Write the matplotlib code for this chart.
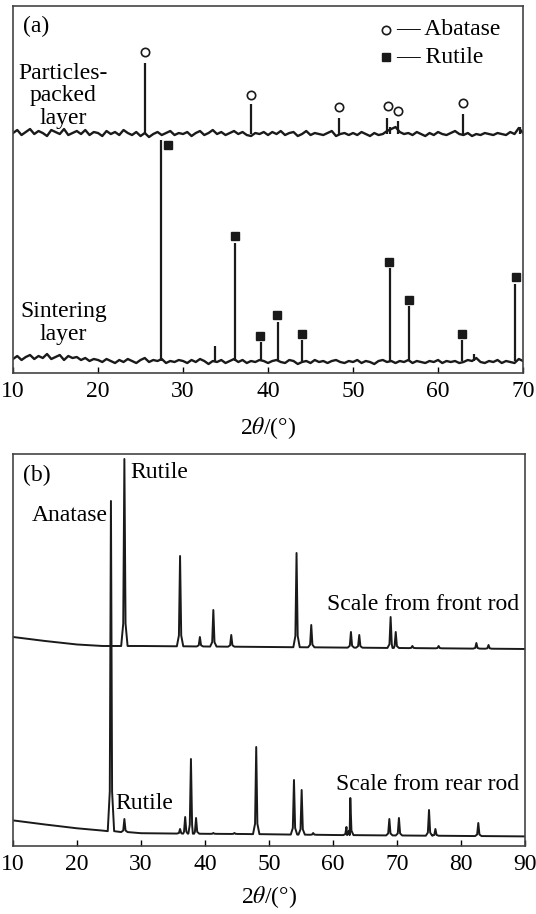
import numpy as np
import matplotlib
matplotlib.use("Agg")
from matplotlib import pyplot as plt

plt.rcParams['font.family'] = ['Liberation Serif', 'DejaVu Serif']
plt.rcParams['mathtext.fontset'] = 'stix'
plt.rcParams['font.size'] = 17

# ---- panel (a): noisy baselines every 0.5 deg, 10..70 ----
grid_a = np.arange(10, 70.01, 0.5)
packed_base = [240, 243, 238, 241, 244, 239, 242, 240, 237, 243, 241, 239, 244, 238, 240, 242, 239, 243, 238, 241,
               240, 237, 242, 239, 241, 238, 243, 240, 238, 241, 237, 240, 236, 239, 241, 238, 240, 242, 238, 240,
               239, 241, 237, 240, 242, 238, 240, 243, 239, 241, 238, 240, 242, 239, 241, 238, 237, 240, 239, 241,
               238, 241, 239, 242, 238, 240, 241, 237, 239, 242, 238, 240, 239, 238, 240, 242, 237, 239, 240, 238,
               240, 238, 241, 239, 237, 240, 238, 239, 242, 244, 246, 241, 239, 240, 238, 241, 239, 237, 240, 238,
               241, 239, 238, 240, 242, 239, 238, 240, 237, 239, 238, 240, 239, 238, 240, 239, 238, 241, 239, 245, 240]
sinter_base = [14, 17, 13, 16, 18, 14, 17, 15, 19, 14, 16, 18, 13, 17, 15, 16, 13, 15, 12, 14,
               13, 11, 14, 12, 10, 13, 11, 14, 12, 10, 13, 15, 11, 13, 12, 14, 10, 12, 11, 13,
               12, 10, 13, 11, 14, 12, 9, 12, 11, 13, 10, 12, 14, 11, 13, 10, 12, 11, 13, 12,
               10, 12, 13, 11, 10, 13, 12, 9, 11, 12, 10, 13, 11, 12, 10, 12, 13, 11, 10, 12,
               11, 13, 10, 12, 11, 9, 12, 13, 11, 12, 10, 12, 11, 13, 10, 12, 11, 10, 12, 11,
               13, 10, 12, 11, 12, 10, 11, 13, 12, 15, 11, 10, 12, 11, 13, 10, 12, 11, 10, 14, 12]

# peaks (2theta, top intensity)
packed_pk = [25.5, 38.0, 48.3, 54.0, 54.4, 55.3, 62.9, 69.7]
packed_top = [310, 269, 255, 255, 246, 252, 259, 246]
anatase_mark_x = [25.5, 38.0, 48.3, 54.1, 55.3, 62.9]
anatase_mark_y = [321, 278, 266, 267, 262, 270]

sinter_pk = [27.4, 33.8, 36.1, 39.2, 41.2, 44.0, 54.3, 56.6, 62.8, 64.2, 69.0]
sinter_top = [233, 27, 130, 31, 51, 33, 105, 67, 33, 19, 89]
rutile_mark_x = [28.2, 36.1, 39.1, 41.1, 44.0, 54.2, 56.6, 62.8, 69.2]
rutile_mark_y = [228, 137, 37, 58, 39, 111, 73, 39, 96]

# ---- panel (b) ----
front_bx = [10, 15, 20, 24, 30, 90]
front_by = [209, 205, 201.5, 200, 200, 197]
front_pk = [27.4, 36.1, 39.2, 41.3, 44.1, 54.3, 56.6, 62.8, 64.1, 69.0, 69.8, 72.4, 76.5, 82.4, 84.3]
front_top = [387, 290, 209, 236, 211, 293, 221, 214, 211, 229, 214, 200, 200, 203, 201]

rear_bx = [10, 15, 20, 24, 30, 40, 46, 60, 90]
rear_by = [25.6, 21.5, 17.7, 15.4, 12.8, 12.2, 12, 11, 9.6]
rear_pk = [25.3, 27.4, 36.1, 36.9, 37.8, 38.6, 41.3, 44.6, 48.0, 53.9, 55.1, 56.9, 62.1, 62.7, 68.8, 70.3, 75.0, 76.0, 82.7]
rear_top = [345, 27, 17, 29, 87, 28, 13, 13, 99, 66, 56, 13, 19, 48, 27, 28, 36, 17, 23]


def trace(bx, by, pk, top, hw=0.5):
    xs = [x for x in bx if all(abs(x - p) > hw for p in pk)]
    ys = [y for x, y in zip(bx, by) if all(abs(x - p) > hw for p in pk)]
    for p, t in zip(pk, top):
        b = np.interp(p, bx, by)
        h = t - b
        xs += [p - hw, p - 0.18, p, p + 0.18, p + hw]
        ys += [b, b + 0.12 * h, t, b + 0.12 * h, b]
    order = np.argsort(xs)
    return np.array(xs)[order], np.array(ys)[order]


fig = plt.figure(figsize=(5.36, 9.14), dpi=100)
ax1 = fig.add_axes([0.0243, 0.5919, 0.9515, 0.4015])
ax2 = fig.add_axes([0.0243, 0.0744, 0.9552, 0.4289])

lc = '#1a1a1a'
ax1.plot(grid_a, packed_base, color=lc, lw=1.7)
ax1.vlines(packed_pk, 239, packed_top, color=lc, lw=1.6)
ax1.plot(grid_a, sinter_base, color=lc, lw=1.7)
ax1.vlines(sinter_pk, 12, sinter_top, color=lc, lw=1.6)
ax1.plot(anatase_mark_x, anatase_mark_y, 'o', mfc='white', mec=lc, ms=6, mew=1.2, ls='none')
ax1.plot(rutile_mark_x, rutile_mark_y, 's', color=lc, ms=5.5, ls='none')
ax1.set_xlim(10, 70)
ax1.set_ylim(0, 367)
ax1.set_xticks(np.arange(10, 71, 10))

ax1.text(0.02, 0.945, '(a)', transform=ax1.transAxes, va='center')
ax1.text(0.099, 0.755, 'Particles-\npacked\nlayer', transform=ax1.transAxes,
         ha='center', va='center', linespacing=1.1)
ax1.text(0.099, 0.136, 'Sintering\nlayer', transform=ax1.transAxes,
         ha='center', va='center', linespacing=1.1)
ax1.plot([0.731], [0.935], 'o', mfc='white', mec=lc, ms=6, mew=1.2, transform=ax1.transAxes)
ax1.plot([0.731], [0.861], 's', color=lc, ms=5.5, transform=ax1.transAxes)
ax1.text(0.752, 0.935, '— Abatase', transform=ax1.transAxes, va='center')
ax1.text(0.752, 0.861, '— Rutile', transform=ax1.transAxes, va='center')
ax1.set_xlabel('2$\\theta$/(°)', labelpad=9)

fx, fy = trace(front_bx, front_by, front_pk, front_top)
rx, ry = trace(rear_bx, rear_by, rear_pk, rear_top)
ax2.plot(fx, fy, color=lc, lw=1.4)
ax2.plot(rx, ry, color=lc, lw=1.4)
ax2.set_xlim(10, 90)
ax2.set_ylim(0, 392)
ax2.set_xticks(np.arange(10, 91, 10))
ax2.text(0.02, 0.946, '(b)', transform=ax2.transAxes, va='center')
ax2.text(0.23, 0.954, 'Rutile', transform=ax2.transAxes, va='center')
ax2.text(0.037, 0.844, 'Anatase', transform=ax2.transAxes, va='center')
ax2.text(0.988, 0.617, 'Scale from front rod', transform=ax2.transAxes, va='center', ha='right')
ax2.text(0.988, 0.157, 'Scale from rear rod', transform=ax2.transAxes, va='center', ha='right')
ax2.text(0.199, 0.109, 'Rutile', transform=ax2.transAxes, va='center')
ax2.set_xlabel('2$\\theta$/(°)', labelpad=6)

for ax in (ax1, ax2):
    ax.set_yticks([])
    ax.tick_params(axis='x', direction='in', length=4.5, width=1, pad=6, top=False)
    for s in ax.spines.values():
        s.set_color('#444444')
        s.set_linewidth(1.2)

fig.savefig('out.png', dpi=100)
